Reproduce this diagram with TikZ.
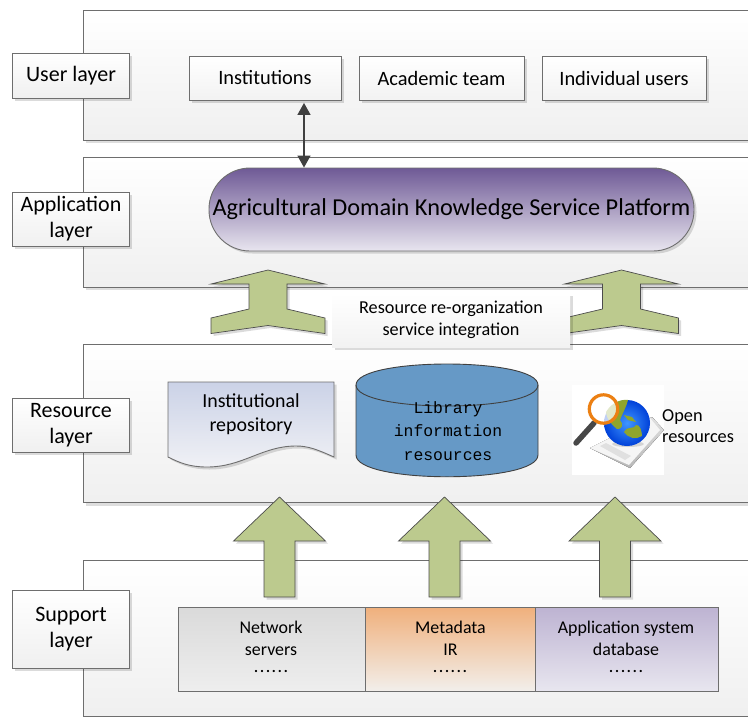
\documentclass[tikz,border=0pt]{standalone}
\usepackage{fontspec}
\setmainfont{Carlito}
\newfontfamily\monof{Liberation Mono}
\usetikzlibrary{shadows,shapes.geometric,arrows.meta,calc}
\definecolor{lineg}{HTML}{6E6E6E}
\definecolor{greenA}{HTML}{BCCA8E}
\definecolor{blueC}{HTML}{6699C6}
\definecolor{pillT}{HTML}{6F5A96}
\definecolor{pillB}{HTML}{E8E5EF}
\definecolor{docT}{HTML}{CBD2E7}
\definecolor{docB}{HTML}{F0F1F5}
\definecolor{grayT}{HTML}{DADADA}
\definecolor{grayB}{HTML}{EEEEEE}
\definecolor{oraT}{HTML}{F0B07C}
\definecolor{oraB}{HTML}{F2EFEB}
\definecolor{vioT}{HTML}{BDB3D2}
\definecolor{vioB}{HTML}{E8E6EF}
\definecolor{olive}{HTML}{8FA52C}
\newcommand{\dn}[2]{\raisebox{-#1pt}{#2}}
\tikzset{
  x=1pt,y=-1pt,
  softshadow/.style={drop shadow={shadow xshift=2.5pt,shadow yshift=-2.5pt,fill=black,opacity=.14}},
  layerline/.style={draw=lineg,line width=1pt},
  labelbox/.style={draw=lineg,line width=.9pt,top color=white,bottom color=black!6,softshadow,align=center,inner sep=0,
    minimum width=117pt,font=\fontsize{22}{26}\selectfont},
  userbox/.style={draw=lineg,line width=.9pt,top color=white,bottom color=black!5,softshadow,inner sep=0,
    minimum height=44pt,font=\fontsize{20.4}{24}\selectfont},
  bigarrow/.style={draw=black!70,line width=.7pt,fill=greenA,softshadow,line join=miter},
  supportcell/.style={draw=lineg,line width=.9pt,inner sep=0,minimum height=84pt,align=center},
  smalltxt/.style={font=\fontsize{19.9}{24}\selectfont,align=center,inner sep=0},
  celltxt/.style={font=\fontsize{17.9}{22}\selectfont,align=center,inner sep=0},
  dotstxt/.style={font=\bfseries\fontsize{15}{15}\selectfont\addfontfeature{LetterSpace=13},inner sep=0,anchor=base},
}
\begin{document}
\begin{tikzpicture}
\useasboundingbox (0,0) rectangle (748,716);
% layer bands
\foreach \t/\b in {10/140,157/287,344/502.5,560.5/716}{
  \fill[top color=white,bottom color=black!6] (83,\t) rectangle (748,\b);
  \fill[black!13] (86,\b+0.5) rectangle (748,\b+3);
  \draw[layerline] (748,\t) -- (83,\t) -- (83,\b) -- (748,\b);
}
% side labels
\node[labelbox,minimum height=45pt] (user) at (71,75.5) {\dn{0.5}{User layer}};
\node[labelbox,minimum height=54pt] (appl) at (71,219) {\dn{1}{Application}\\\dn{1}{layer}};
\node[labelbox,minimum height=54pt] (res) at (71,425) {\dn{1}{Resource}\\\dn{1}{layer}};
\node[labelbox,minimum height=78pt] (sup) at (71,629) {\dn{1}{Support}\\\dn{1}{layer}};
% user boxes
\node[userbox,minimum width=152pt] (inst) at (265,78) {\dn{1}{Institutions}};
\node[userbox,minimum width=165pt] (team) at (441.5,78) {Academic team};
\node[userbox,minimum width=164pt] (indiv) at (624,78) {Individual users};
% platform
\node[draw=lineg,line width=.9pt,rounded corners=41pt,minimum width=485pt,minimum height=83pt,inner sep=0,
  top color=pillT,bottom color=pillB,softshadow,
  font=\fontsize{24.3}{28}\selectfont] (pill) at (451.5,209.5) {\dn{1.5}{Agricultural Domain Knowledge Service Platform}};
\coordinate (vx) at (304,0);
\draw[{Triangle[length=12pt,width=13pt]}-{Triangle[length=12pt,width=13pt]},line width=1.4pt,black!75]
  (inst.south -| vx) ++(0,2.5) -- (pill.north -| vx);
% double-ended block arrows
\foreach \c in {268,621.5}{
  \draw[bigarrow] (\c,270) -- (\c+57,284) -- (\c+19,284) -- (\c+19,309) -- (\c+57,318) -- (\c+57,333.5)
    -- (\c,325.5) -- (\c-57,333.5) -- (\c-57,318) -- (\c-19,309) -- (\c-19,284) -- (\c-57,284) -- cycle;
}
\node[top color=white,bottom color=black!5,softshadow,minimum width=238pt,minimum height=54pt,inner sep=0,align=center,
  font=\fontsize{18.2}{21.5}\selectfont] (reorg) at (451,320) {Resource re-organization\\service integration};
% document
\path[draw=lineg,line width=.9pt,top color=docT,bottom color=docB,softshadow]
  (168,382) -- (334,382) -- (334,457) .. controls (318,450) and (309,446) .. (296,446)
  .. controls (262,446) and (243,467) .. (207,467) .. controls (190,467) and (180,463) .. (168,457) -- cycle;
\node[smalltxt] (repo) at (251,414.5) {Institutional\\repository};
% cylinder
\path[draw=black!75,line width=.9pt,fill=blueC]
  (356,385) .. controls (356,357) and (538,357) .. (538,385) -- (538,455)
  .. controls (538,484) and (356,484) .. (356,455) -- cycle;
\draw[black!75,line width=.9pt] (356,385) .. controls (356,413) and (538,413) .. (538,385);
\node[font=\monof\fontsize{16.4}{23.5}\selectfont,align=center,inner sep=0] (lib) at (448,431) {Library\\information\\resources};
% globe picture
\fill[white] (572,385) rectangle (664,475);
\fill[top color=black!12,bottom color=black!28] (590,448) -- (652,417) -- (664,430) -- (630,468) -- cycle;
\fill[black!4] (590,448) -- (650,418) -- (660,430) -- (629,465) -- cycle;
\fill[black!12] (600,446) -- (606,443) -- (631,456) -- (625,460) -- cycle;
\fill[black!30,opacity=.5] (628,444) ellipse (16 and 3);
\shade[inner color=cyan!45!blue!75!white,outer color=blue!70!cyan!85!black] (627,423) circle (23);
\fill[olive] (606,412) .. controls (612,402) and (622,399) .. (628,400) .. controls (626,408) and (622,414) .. (620,420)
  .. controls (624,424) and (622,430) .. (617,429) .. controls (612,425) and (607,420) .. (606,412) -- cycle;
\fill[olive] (624,432) .. controls (628,425) and (634,430) .. (636,425) .. controls (640,424) and (642,432) .. (642,436)
  .. controls (636,440) and (628,438) .. (624,432) -- cycle;
\fill[olive] (624,415) -- (632,417) -- (636,422) -- (628,420) -- cycle;
\draw[line width=5.5pt,line cap=round,black!72] (594,423) -- (576,443);
\fill[white,opacity=.75] (603.5,409) circle (13.5);
\draw[line width=3.2pt,orange!70!brown] (603.5,409) circle (14.2);
\node[font=\fontsize{18.3}{21}\selectfont,align=left,inner sep=0,anchor=west] (open) at (662,426) {Open\\resources};
% upward arrows
\foreach \c in {279.5,444.5,615}{
  \draw[bigarrow] (\c,497) -- (\c+46,541) -- (\c+15.5,541) -- (\c+15.5,597) -- (\c-15.5,597) -- (\c-15.5,541) -- (\c-46,541) -- cycle;
}
% support cells
\node[supportcell,minimum width=187pt,top color=grayT,bottom color=grayB] (net) at (271.5,649) {};
\node[supportcell,minimum width=171pt,top color=oraT,bottom color=oraB] (meta) at (450.5,649) {};
\node[supportcell,minimum width=183pt,top color=vioT,bottom color=vioB] (app) at (627,649) {};
\node[celltxt] (netT) at (271,638) {Network\\servers};
\node[celltxt] (metaT) at (450.5,638) {Metadata\\IR};
\node[celltxt] (appT) at (626,638) {Application system\\database};
\node[dotstxt] (d1) at (271,672) {......};
\node[dotstxt] (d2) at (450,672) {......};
\node[dotstxt] (d3) at (626,672) {......};
\end{tikzpicture}
\end{document}
